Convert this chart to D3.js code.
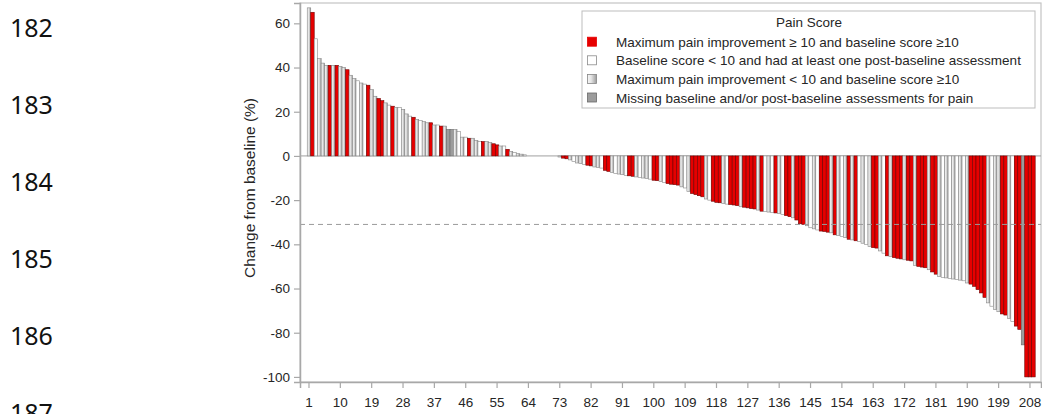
<!DOCTYPE html>
<html>
<head>
<meta charset="utf-8">
<script src="https://cdn.jsdelivr.net/npm/d3@7"></script>
<style>
  html, body { margin: 0; padding: 0; background: #fff; }
  svg { display: block; }
  .lbl { font-family: "Liberation Sans", Arial, sans-serif; fill: #262626; }
</style>
</head>
<body>
<svg id="chart" width="1042" height="414"></svg>
<script>
// Best percent change from baseline, one bar per patient, sorted high to low
const changePct = [
  67, 65, 53, 44, 42, 41, 41, 41, 41, 40.5,
  40, 39, 36.5, 35, 34, 33, 32.5, 32, 30, 27,
  26, 25, 24, 23, 22.5, 22, 22, 21, 19, 18,
  17.5, 16.5, 16, 15.5, 15, 15, 14, 14, 13.5, 13.5,
  12, 12, 12, 11, 8.5, 8.5, 8, 8, 7, 6.5,
  6.5, 6.5, 6, 5.5, 5, 4.5, 4.5, 3, 2, 1.5,
  1, 0.8, 0.5, 0, 0, 0, 0, 0, 0, 0,
  0, 0, -0.5, -1, -1.3, -1.8, -2.5, -3.2, -3.5, -3.8,
  -4.2, -4.5, -5, -5.2, -5.5, -6.5, -7, -7.5, -8, -8.2,
  -8.5, -8.8, -9, -9.2, -9.5, -9.8, -10, -10.2, -10.5, -11,
  -11.2, -11.5, -12, -12.5, -12.8, -13, -13.2, -14, -14.5, -16,
  -17, -17.5, -18, -18.5, -19.5, -20, -20.5, -21, -21.2, -21.5,
  -21.8, -22, -22.2, -22.5, -23, -23.2, -23.5, -23.8, -24, -24.5,
  -25, -25.2, -25.4, -25.6, -25.8, -26, -26.5, -27, -27.5, -28,
  -29, -30.7, -31, -31.6, -32.5, -33, -33.5, -34, -34.2, -34.5,
  -34.8, -35.7, -36, -36.5, -37, -37.7, -38, -38.4, -38.8, -39.5,
  -40, -41, -41.5, -41.7, -43, -44, -45.2, -45.6, -46, -46.3,
  -46.6, -47, -47.2, -47.5, -49.5, -50, -50.3, -50.6, -51.5, -52.5,
  -53.5, -54.5, -55, -55.2, -55.5, -55.7, -56, -56.2, -56.5, -57.5,
  -58, -59, -60.5, -62, -64, -66.5, -68, -69.5, -70.5, -71.5,
  -72, -73.5, -75, -77, -78.5, -85.5, -100, -100, -100
];

// Pain score group per patient: R = improvement >= 10, W = baseline < 10,
// G = improvement < 10, M = missing assessments
const painGroup = [
  "G","R","W","G","G","G","R","G","R","G",
  "G","R","G","G","W","G","W","R","G","G",
  "R","R","G","W","R","G","W","G","G","W",
  "R","G","W","G","G","R","G","W","R","G",
  "M","M","G","W","G","W","R","G","G","W",
  "R","G","G","R","R","G","W","R","G","W",
  "G","G","W","G","W","G","W","G","G","W",
  "G","G","G","R","R","G","W","G","G","W",
  "R","R","G","G","W","R","R","G","W","G",
  "G","W","R","R","G","W","G","G","W","R",
  "R","G","W","R","R","R","R","G","W","G",
  "R","R","R","R","G","W","R","R","R","G",
  "W","R","R","R","G","R","R","R","R","G",
  "R","W","G","W","R","G","W","R","R","G",
  "R","R","R","G","W","G","W","R","R","R",
  "G","R","G","W","G","R","G","R","W","G",
  "W","G","R","R","G","W","R","G","R","R",
  "R","G","R","R","G","R","R","R","G","R",
  "R","G","W","G","W","G","W","G","W","G",
  "R","R","R","R","R","G","W","G","G","R",
  "R","G","W","R","R","M","R","R","R"
];

const xTickValues = [1, 10, 19, 28, 37, 46, 55, 64, 73, 82, 91, 100, 109, 118, 127, 136, 145, 154, 163, 172, 181, 190, 199, 208];
const yTickValues = [-100, -80, -60, -40, -20, 0, 20, 40, 60];
const thresholdPct = -31;

const legendTitle = "Pain Score";
const legendGroups = ["R", "W", "G", "M"];
const legendLabels = [
  "Maximum pain improvement \u2265 10 and baseline score \u226510",
  "Baseline score < 10 and had at least one post-baseline assessment",
  "Maximum pain improvement < 10 and baseline score \u226510",
  "Missing baseline and/or post-baseline assessments for pain"
];

const yTitle = "Change from baseline (%)";
const lineNumbers = ["182", "183", "184", "185", "186", "187"];

// ---------------------------------------------------------------
const svg = d3.select("#chart");
const plot = { left: 300, right: 1041, top: 3, bottom: 382 };

const patients = changePct.map((_, i) => i + 1);
const rows = patients.map((p, i) => ({ id: p, value: changePct[i], group: painGroup[i] }));

const x = d3.scaleBand()
  .domain(patients)
  .range([plot.left, plot.right])
  .paddingInner(0)
  .paddingOuter(1.875)
  .align(0.555);

const y = d3.scaleLinear()
  .domain([-102.3, 69.2])
  .range([plot.bottom, plot.top]);

// fills
const defs = svg.append("defs");
const grad = defs.append("linearGradient").attr("id", "gradGrey")
  .attr("x1", "0%").attr("x2", "100%").attr("y1", "0%").attr("y2", "0%");
grad.append("stop").attr("offset", "0%").attr("stop-color", "#f4f4f4");
grad.append("stop").attr("offset", "40%").attr("stop-color", "#e6e6e6");
grad.append("stop").attr("offset", "100%").attr("stop-color", "#9c9c9c");

const fillOf = { R: "#e60000", W: "#ffffff", G: "url(#gradGrey)", M: "#9c9c9c" };
const strokeOf = { R: "#6e0000", W: "#8a8a8a", G: "#858585", M: "#6a6a6a" };

// left margin line numbers
svg.append("g")
  .selectAll("text")
  .data(lineNumbers)
  .join("text")
  .attr("x", 10)
  .attr("y", (d, i) => 37 + i * 77)
  .style("font-family", "'Noto Sans', 'Open Sans', sans-serif")
  .style("font-size", "25px")
  .style("fill", "#111")
  .text(d => d);

// plot frame
svg.append("rect")
  .attr("x", plot.left).attr("y", plot.top)
  .attr("width", plot.right - plot.left).attr("height", plot.bottom - plot.top)
  .attr("fill", "none").attr("stroke", "#c4c4c4").attr("stroke-width", 1.2);

// zero line
svg.append("line")
  .attr("x1", plot.left).attr("x2", plot.right)
  .attr("y1", y(0)).attr("y2", y(0))
  .attr("stroke", "#a0a0a0").attr("stroke-width", 1);

// bars
svg.append("g")
  .selectAll("rect")
  .data(rows)
  .join("rect")
  .attr("x", d => x(d.id))
  .attr("width", x.bandwidth())
  .attr("y", d => y(Math.max(0, d.value)))
  .attr("height", d => Math.abs(y(d.value) - y(0)))
  .attr("fill", d => fillOf[d.group])
  .attr("stroke", d => strokeOf[d.group])
  .attr("stroke-width", 0.6);

// threshold reference line
svg.append("line")
  .attr("x1", plot.left).attr("x2", plot.right)
  .attr("y1", y(thresholdPct)).attr("y2", y(thresholdPct))
  .attr("stroke", "#9a9a9a").attr("stroke-width", 1)
  .attr("stroke-dasharray", "5,4");

// axes
const yAxis = svg.append("g")
  .attr("transform", `translate(${plot.left},0)`)
  .call(d3.axisLeft(y).tickValues(yTickValues).tickSize(6).tickPadding(4).tickFormat(d3.format("d")));
const xAxis = svg.append("g")
  .attr("transform", `translate(0,${plot.bottom})`)
  .call(d3.axisBottom(x).tickValues(xTickValues).tickSize(6).tickPadding(9));

[yAxis, xAxis].forEach(g => {
  g.select(".domain").attr("stroke", "#a8a8a8").attr("stroke-width", 1.5);
  g.selectAll(".tick line").attr("stroke", "#a8a8a8").attr("stroke-width", 1.2);
  g.selectAll(".tick text")
    .attr("class", "lbl")
    .style("font-size", "13.5px");
});
yAxis.selectAll(".tick text").text(d => d < 0 ? "-" + Math.abs(d) : d);

// y axis title
svg.append("text")
  .attr("class", "lbl")
  .attr("transform", "translate(255,188) rotate(-90)")
  .attr("text-anchor", "middle")
  .style("font-size", "15.5px")
  .text(yTitle);

// legend
const lg = svg.append("g");
lg.append("rect")
  .attr("x", 582).attr("y", 11).attr("width", 453).attr("height", 97)
  .attr("fill", "#fff").attr("stroke", "#bdbdbd").attr("stroke-width", 1);
lg.append("text")
  .attr("class", "lbl")
  .attr("x", 809).attr("y", 27)
  .attr("text-anchor", "middle")
  .style("font-size", "13.5px")
  .text(legendTitle);
const items = lg.selectAll("g.item")
  .data(legendGroups)
  .join("g")
  .attr("class", "item")
  .attr("transform", (d, i) => `translate(0,${41.7 + i * 18.6})`);
items.append("rect")
  .attr("x", 587.5).attr("y", -4.5).attr("width", 9).attr("height", 9)
  .attr("fill", d => fillOf[d])
  .attr("stroke", d => d === "R" ? "#e60000" : strokeOf[d])
  .attr("stroke-width", 0.8);
items.append("text")
  .attr("class", "lbl")
  .attr("x", 616).attr("y", 5)
  .style("font-size", "13.5px")
  .text((d, i) => legendLabels[i]);
</script>
</body>
</html>
